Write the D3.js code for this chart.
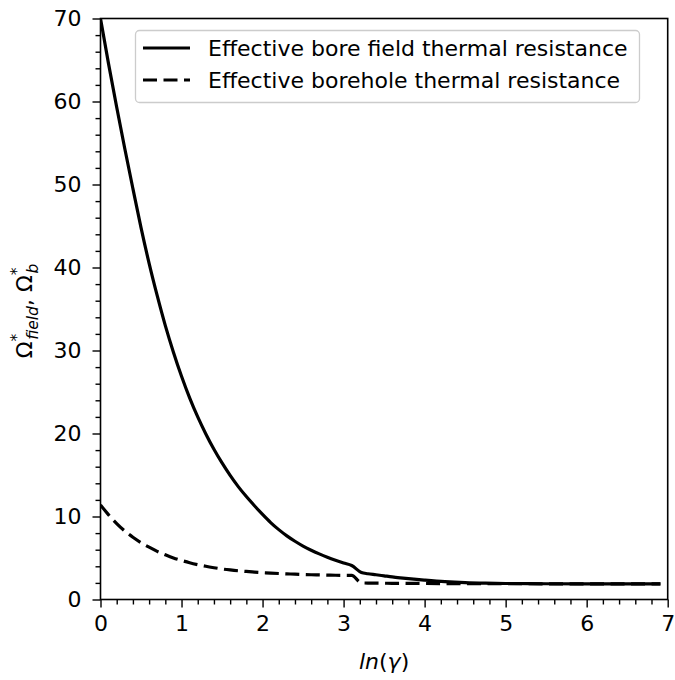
<!DOCTYPE html>
<html>
<head>
<meta charset="utf-8">
<script src="https://cdn.jsdelivr.net/npm/d3@7"></script>
<style>
  html, body { margin: 0; padding: 0; background: #fff; }
  svg { display: block; font-family: "DejaVu Sans", sans-serif; }
</style>
</head>
<body>
<svg id="chart" width="675" height="680"></svg>
<script>
// ---- data ----
const lnGamma = [0, 0.1, 0.2, 0.3, 0.4, 0.5, 0.6, 0.7, 0.8, 0.9,
  1.0, 1.1, 1.2, 1.3, 1.4, 1.5, 1.6, 1.7, 1.8, 1.9,
  2.0, 2.1, 2.2, 2.3, 2.4, 2.5, 2.6, 2.7, 2.8, 2.9,
  3.0, 3.1, 3.22, 3.3, 3.4, 3.5, 3.6, 3.7, 3.8, 3.9,
  4.0, 4.25, 4.5, 4.75, 5.0, 5.5, 6.0, 6.5, 6.91];
const boreFieldResistance = [70.0, 64.5, 59.3, 54.3, 49.5, 44.8, 40.5, 36.6, 33.0, 29.8,
  26.9, 24.3, 22.0, 19.95, 18.1, 16.45, 14.95, 13.6, 12.4, 11.3,
  10.25, 9.27, 8.42, 7.67, 7.02, 6.44, 5.94, 5.5, 5.1, 4.74,
  4.41, 4.1, 3.25, 3.1, 2.98, 2.85, 2.72, 2.61, 2.51, 2.42,
  2.34, 2.16, 2.04, 1.97, 1.93, 1.9, 1.89, 1.88, 1.88];
const boreholeResistance = [11.4, 10.2, 9.15, 8.25, 7.5, 6.85, 6.3, 5.8, 5.38, 5.0,
  4.7, 4.43, 4.2, 4.0, 3.83, 3.68, 3.56, 3.46, 3.38, 3.3,
  3.24, 3.18, 3.13, 3.09, 3.05, 3.01, 2.98, 2.96, 2.94, 2.92,
  2.91, 2.9, 2.0, 1.98, 1.97, 1.96, 1.95, 1.95, 1.94, 1.94,
  1.93, 1.92, 1.91, 1.9, 1.9, 1.89, 1.88, 1.88, 1.88];
const seriesLabels = ["Effective bore field thermal resistance", "Effective borehole thermal resistance"];
const xTicks = [0, 1, 2, 3, 4, 5, 6, 7];
const yTicks = [0, 10, 20, 30, 40, 50, 60, 70];

// ---- layout ----
const svg = d3.select("#chart");
const L = 100.5, R = 667.7, T = 18.5, B = 599.5;
const x = d3.scaleLinear().domain([0, 7]).range([L, R]);
const y = d3.scaleLinear().domain([0, 70]).range([B, T]);
const FS = 22;

svg.append("defs").append("clipPath").attr("id", "clip")
  .append("rect").attr("x", L).attr("y", T).attr("width", R - L).attr("height", B - T);

// ---- axes ----
const xMinor = d3.range(0, 7.0001, 0.2).filter(v => Math.abs(v - Math.round(v)) > 1e-6);
const yMinor = d3.range(0, 70.0001, 2).filter(v => v % 10 !== 0);

const xAxis = d3.axisBottom(x).tickValues(xTicks).tickFormat(d3.format("d")).tickSize(8).tickPadding(8);
const xAxisMinor = d3.axisBottom(x).tickValues(xMinor).tickFormat("").tickSize(5);
const yAxis = d3.axisLeft(y).tickValues(yTicks).tickFormat(d3.format("d")).tickSize(8).tickPadding(11);
const yAxisMinor = d3.axisLeft(y).tickValues(yMinor).tickFormat("").tickSize(5);

function styleAxis(g) {
  g.select(".domain").remove();
  g.selectAll(".tick line").attr("stroke", "#000").attr("stroke-width", 1.4);
  g.selectAll(".tick text").attr("fill", "#000").style("font-size", FS + "px")
    .style("font-family", "'DejaVu Sans', sans-serif");
}
svg.append("g").attr("transform", `translate(0,${B})`).call(xAxis).call(styleAxis);
svg.append("g").attr("transform", `translate(0,${B})`).call(xAxisMinor).call(styleAxis);
svg.append("g").attr("transform", `translate(${L},0)`).call(yAxis).call(styleAxis);
svg.append("g").attr("transform", `translate(${L},0)`).call(yAxisMinor).call(styleAxis);

// ---- lines ----
const plot = svg.append("g").attr("clip-path", "url(#clip)");
const line = d3.line().x(d => x(d[0])).y(d => y(d[1])).curve(d3.curveMonotoneX);
const solidData = lnGamma.map((g, i) => [g, boreFieldResistance[i]]);
const dashData = lnGamma.map((g, i) => [g, boreholeResistance[i]]);

plot.append("path").datum(dashData).attr("d", line)
  .attr("fill", "none").attr("stroke", "#000").attr("stroke-width", 3.2)
  .attr("stroke-dasharray", "14,6.5");
plot.append("path").datum(solidData).attr("d", line)
  .attr("fill", "none").attr("stroke", "#000").attr("stroke-width", 3.2);

// ---- frame ----
svg.append("rect").attr("x", L).attr("y", T).attr("width", R - L).attr("height", B - T)
  .attr("fill", "none").attr("stroke", "#000").attr("stroke-width", 1.6);

// ---- legend ----
const lg = svg.append("g");
lg.append("rect").attr("x", 135.5).attr("y", 30.5).attr("width", 504).attr("height", 72)
  .attr("rx", 4).attr("fill", "#fff").attr("fill-opacity", 0.8)
  .attr("stroke", "#cccccc").attr("stroke-width", 1.3);
const legendRows = [
  { label: seriesLabels[0], dash: null, yy: 48 },
  { label: seriesLabels[1], dash: "14,6.5", yy: 80 }
];
legendRows.forEach(r => {
  const ln = lg.append("line").attr("x1", 143).attr("x2", 190).attr("y1", r.yy).attr("y2", r.yy)
    .attr("stroke", "#000").attr("stroke-width", 3.2);
  if (r.dash) ln.attr("stroke-dasharray", r.dash);
  lg.append("text").attr("x", 208).attr("y", r.yy + 8).style("font-size", FS + "px")
    .attr("fill", "#000").text(r.label);
});

// ---- axis labels ----
const xl = svg.append("text").attr("x", (L + R) / 2).attr("y", 669)
  .attr("text-anchor", "middle").style("font-size", FS + "px").attr("fill", "#000");
xl.append("tspan").style("font-style", "italic").text("ln");
xl.append("tspan").text("(");
xl.append("tspan").style("font-style", "italic").text("γ");
xl.append("tspan").text(")");

const yl = svg.append("text").attr("transform", "translate(32,311) rotate(-90)")
  .attr("text-anchor", "middle").style("font-size", FS + "px").attr("fill", "#000");
const sub = 15.5;
yl.append("tspan").text("Ω");
yl.append("tspan").attr("dy", -10).style("font-size", sub + "px").text("*");
yl.append("tspan").attr("dx", -6).attr("dy", 16).style("font-size", sub + "px").style("font-style", "italic").text("field");
yl.append("tspan").attr("dy", -6).text(", ");
yl.append("tspan").text("Ω");
yl.append("tspan").attr("dy", -10).style("font-size", sub + "px").text("*");
yl.append("tspan").attr("dx", -6).attr("dy", 16).style("font-size", sub + "px").style("font-style", "italic").text("b");
</script>
</body>
</html>
